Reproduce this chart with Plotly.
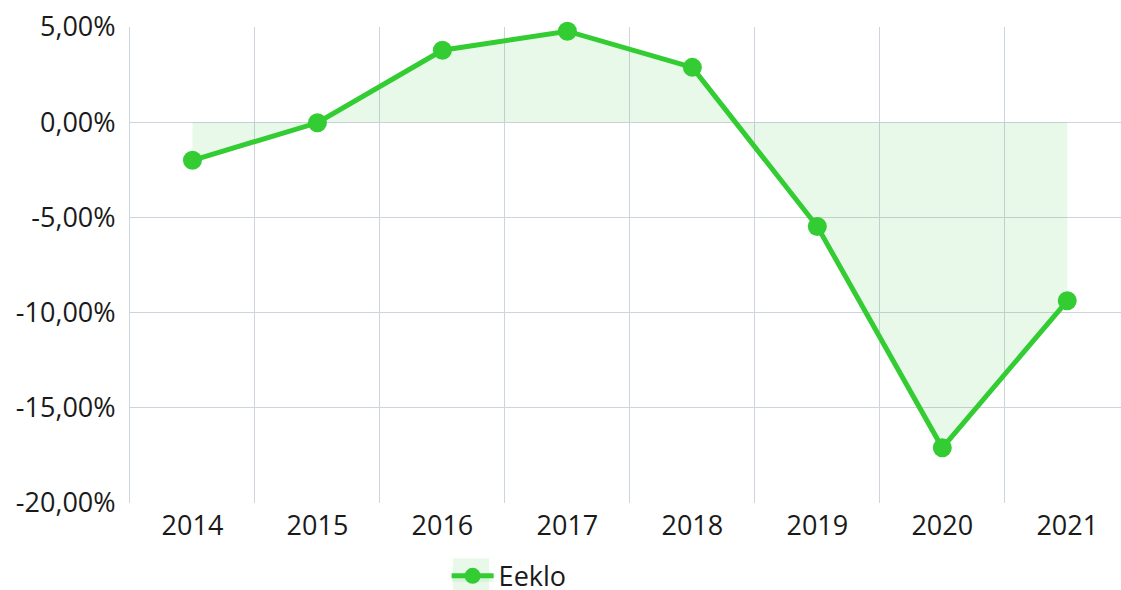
import plotly.graph_objects as go

years = ["2014", "2015", "2016", "2017", "2018", "2019", "2020", "2021"]
values = [-2.0, -0.03, 3.78, 4.78, 2.88, -5.48, -17.1, -9.38]
series_name = "Eeklo"
y_tickvals = [5, 0, -5, -10, -15, -20]
y_ticktext = ["5,00%", "0,00%", "-5,00%", "-10,00%", "-15,00%", "-20,00%"]

FONT = "Open Sans"
GRID = "#ccd4de"
GREEN = "#33cc33"
FILL = "rgba(51,204,51,0.11)"
FS = 27

fig = go.Figure()
fig.add_trace(go.Scatter(
    x=years, y=values, name=series_name,
    mode="lines+markers",
    line=dict(color=GREEN, width=5),
    marker=dict(color=GREEN, size=19),
    fill="tozeroy", fillcolor=FILL,
    cliponaxis=False,
))

# light background box behind the legend symbol
fig.add_shape(type="rect", xref="paper", yref="paper",
              x0=0.3259, x1=0.3623, y0=-0.116, y1=-0.19,
              fillcolor=FILL, line=dict(width=0), layer="below")

fig.update_layout(
    width=1121, height=601,
    margin=dict(l=130, r=0, t=27, b=90),
    paper_bgcolor="white", plot_bgcolor="white",
    font=dict(family=FONT, size=FS, color="#1a1a1a"),
    showlegend=True,
    legend=dict(orientation="h", x=0.3195, xanchor="left", y=-0.154, yanchor="middle",
                font=dict(size=FS, family=FONT), bgcolor="rgba(0,0,0,0)", itemwidth=42),
)
fig.update_xaxes(
    type="category", range=[-0.5, 7.43], automargin=False,
    showgrid=True, gridcolor=GRID, gridwidth=1, tickson="boundaries",
    ticks="", showline=False, zeroline=False, ticklabelstandoff=4,
    tickfont=dict(size=FS, family=FONT),
)
fig.update_yaxes(
    range=[-20, 5], tickvals=y_tickvals, ticktext=y_ticktext, automargin=False,
    showgrid=True, gridcolor=GRID, gridwidth=1, ticklabeloverflow="allow",
    zeroline=True, zerolinecolor=GRID, zerolinewidth=1,
    showline=True, linecolor=GRID, linewidth=1, ticks="", ticklabelstandoff=8,
    tickfont=dict(size=FS, family=FONT),
)

post = (
    "var s=document.createElement('style');"
    "s.textContent='html,body{margin:0;padding:0;overflow:hidden}';"
    "document.head.appendChild(s);"
)

fig.write_html("out.html", post_script=post, config={"displayModeBar": False})
